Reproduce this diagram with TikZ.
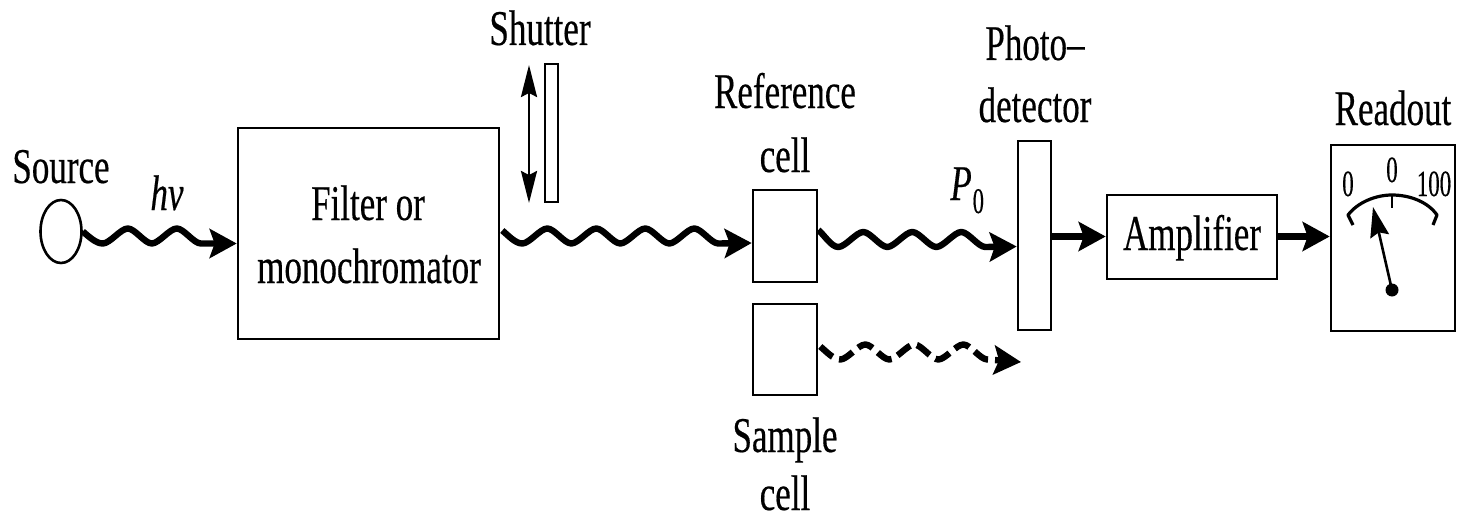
\documentclass[tikz,border=0pt]{standalone}
\usepackage{fontspec}
\setmainfont[FakeStretch=0.7,FakeBold=0.35]{Liberation Serif}
\newfontfamily\meterfont[FakeStretch=0.62,FakeBold=0.35]{Liberation Serif}
\usetikzlibrary{arrows.meta,shapes.geometric}
\tikzset{
  lab/.style={anchor=base,inner sep=0pt,font=\fontsize{25}{25}\selectfont},
  dial/.style={anchor=base,inner sep=0pt,font=\meterfont\fontsize{18.5}{18.5}\selectfont},
  boxn/.style={draw=black,line width=1.3pt,fill=white,inner sep=0pt},
  ray/.style={line width=3.2pt,line join=round,-{Stealth[length=13.5pt,width=14.5pt,inset=2.5pt]}},
  wstart/.style={insert path={.. controls +(6,5) and +(-7,0) .. ++(20,#1)}},
  wup/.style={insert path={.. controls +(7,0) and +(-7,0) .. ++(25,-15)}},
  wdn/.style={insert path={.. controls +(7,0) and +(-7,0) .. ++(24,15)}}
}
\begin{document}
\begin{tikzpicture}[x=0.5pt,y=-0.5pt]
\useasboundingbox (0,0) rectangle (1458,514);
% boxes
\node[boxn,ellipse,minimum width=20.5pt,minimum height=31.5pt] (src) at (61,231.5) {};
\node[boxn,minimum width=130.5pt,minimum height=105.5pt] (filter) at (368.5,233.5) {};
\node[boxn,minimum width=6.5pt,minimum height=69pt] (shut) at (551.5,133) {};
\node[boxn,minimum width=32pt,minimum height=46pt] (ref) at (785,236) {};
\node[boxn,minimum width=32pt,minimum height=45.5pt] (samp) at (785,349.5) {};
\node[boxn,minimum width=16.5pt,minimum height=94.5pt] (det) at (1034.5,235.5) {};
\node[boxn,minimum width=85pt,minimum height=42pt] (amp) at (1192,237) {};
\node[boxn,minimum width=62pt,minimum height=93pt] (read) at (1393,238) {};
% labels
\node[lab] (tsource) at (61,183) {Source};
\node[lab] (thv) at (167,210) {\itshape hν};
\node[lab] (tfilter) at (368,220) {Filter or};
\node[lab] (tmono) at (369,283) {monochromator};
\node[lab] (tshut) at (540,45) {Shutter};
\node[lab] (tref) at (785,108) {Reference};
\node[lab] (tcell) at (785,172) {cell};
\node[lab,anchor=base west] (tp) at (950,200) {\itshape P\hspace{0.5pt}\upshape\meterfont\fontsize{18}{18}\selectfont\raisebox{-6.5pt}{0}};
\node[lab] (tphoto) at (1035,60) {Photo–};
\node[lab] (tdet) at (1035,122) {detector};
\node[lab] (tamp) at (1192,250) {Amplifier};
\node[lab] (tread) at (1393,125) {Readout};
\node[lab] (tsamp) at (785,452) {Sample};
\node[lab] (tcell2) at (785,510) {cell};
\node[dial] (d0) at (1348,196) {0};
\node[dial] (d1) at (1392,182) {0};
\node[dial] (d100) at (1434,196) {100};
% shutter arrow
\coordinate (sa) at (529,65);
\coordinate (sb) at (529,203);
\draw[line width=1.3pt,{Stealth[length=16pt,width=8pt,inset=2pt]}-{Stealth[length=16pt,width=8pt,inset=2pt]}] (sa) -- (sb);
% rays
\draw[ray] (src.east) [wstart=12,wup,wdn,wup,wdn] -- ([yshift=-5pt]filter.west);
\draw[ray] ([xshift=1pt,yshift=1.5pt]filter.east) [wstart=13,wup,wdn,wup,wdn,wup,wdn,wup,wdn] -- ([yshift=-3.5pt]ref.west);
\draw[ray] ([yshift=3pt]ref.east) [wstart=17,wup,wdn,wup,wdn,wup,wdn] -- ([yshift=-5.5pt]det.west);
\coordinate (dend) at (1021,362);
\draw[ray,dash pattern=on 8pt off 3.5pt] ([xshift=1pt,yshift=1.5pt]samp.east) [wstart=13,wup,wdn,wup,wdn,wup,wdn] -- (dend);
\draw[ray] ([yshift=-0.5pt]det.east) -- ([yshift=0.25pt]amp.west);
\draw[ray] ([yshift=0.25pt]amp.east) -- ([yshift=0.75pt]read.west);
% meter
\coordinate (ml) at (1353,225);
\coordinate (mr) at (1433,225);
\coordinate (mt) at (1392,195);
\coordinate (mb) at (1392,208);
\draw[line width=1.6pt,line join=round] (ml) -- (1348,215) .. controls (1358,202) and (1376,195) .. (mt) .. controls (1410,195) and (1428,202) .. (1437,215) -- (mr);
\draw[line width=1pt] (mt) -- (mb);
\node[circle,fill=black,minimum size=6.5pt,inner sep=0pt] (pivot) at (1392,290) {};
\coordinate (tip) at (1373,207);
\draw[line width=1.3pt,-{Stealth[length=15pt,width=9.5pt,inset=2pt]}] (pivot.center) -- (tip);
\end{tikzpicture}
\end{document}
